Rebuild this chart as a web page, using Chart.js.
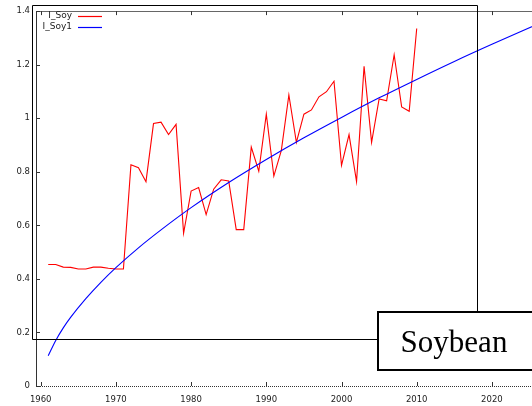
<!DOCTYPE html>
<html><head><meta charset="utf-8">
<script src="https://cdn.jsdelivr.net/npm/chart.js@4"></script>
<style>html,body{margin:0;padding:0;background:#fff;overflow:hidden}canvas{display:block}</style>
</head><body>
<canvas id="c" width="532" height="406"></canvas>
<script>
const years = [1961,1962,1963,1964,1965,1966,1967,1968,1969,1970,
  1971,1972,1973,1974,1975,1976,1977,1978,1979,1980,
  1981,1982,1983,1984,1985,1986,1987,1988,1989,1990,
  1991,1992,1993,1994,1995,1996,1997,1998,1999,2000,
  2001,2002,2003,2004,2005,2006,2007,2008,2009,2010];
const soy = [0.454,0.454,0.444,0.443,0.437,0.437,0.444,0.444,0.440,0.437,
  0.437,0.826,0.815,0.763,0.980,0.985,0.939,0.977,0.570,0.728,
  0.741,0.640,0.735,0.770,0.766,0.584,0.584,0.892,0.802,1.015,
  0.784,0.880,1.087,0.910,1.015,1.031,1.080,1.099,1.138,0.824,
  0.939,0.763,1.194,0.910,1.072,1.065,1.237,1.042,1.026,1.335];
const fitYears = [1961,1962,1963,1964,1966,1968,1970,1973,1976,1980,1985,1990,1995,2000,2005,2010,2015,2020,2026];
const fitValues = [0.113,0.170,0.217,0.257,0.326,0.387,0.442,0.516,0.583,0.666,0.760,0.846,0.927,1.003,1.076,1.145,1.212,1.276,1.350];
const xTicks = [1960,1970,1980,1990,2000,2010,2020];
const yTicks = [0,0.2,0.4,0.6,0.8,1,1.2,1.4];
const yTickLabels = ['0','0.2','0.4','0.6','0.8','1','1.2','1.4'];
const seriesNames = ['I_Soy','I_Soy1'];
const seriesColors = ['#ff0000','#0000ff'];
const panelTitle = 'Soybean';

const X_MIN = 1959.375, X_MAX = 2025.33;

const deco = {
  id: 'deco',
  afterDraw(chart) {
    const {ctx, chartArea: a, scales: {x, y}} = chart;
    ctx.save();
    // bottom axis (dotted look)
    ctx.strokeStyle = '#333'; ctx.lineWidth = 1;
    ctx.setLineDash([1, 1]);
    ctx.beginPath(); ctx.moveTo(a.left, Math.round(a.bottom) + 0.5); ctx.lineTo(a.right, Math.round(a.bottom) + 0.5); ctx.stroke();
    ctx.setLineDash([]);
    // top border
    ctx.strokeStyle = '#666';
    ctx.beginPath(); ctx.moveTo(a.left, Math.round(a.top) + 0.5); ctx.lineTo(a.right, Math.round(a.top) + 0.5); ctx.stroke();
    // inward ticks
    ctx.strokeStyle = '#333';
    ctx.beginPath();
    xTicks.forEach(v => {
      const px = Math.round(x.getPixelForValue(v)) + 0.5;
      ctx.moveTo(px, a.bottom); ctx.lineTo(px, a.bottom - 4);
      ctx.moveTo(px, a.top); ctx.lineTo(px, a.top + 4);
    });
    yTicks.forEach(v => {
      const py = Math.round(y.getPixelForValue(v)) + 0.5;
      ctx.moveTo(a.left, py); ctx.lineTo(a.left + 4, py);
    });
    ctx.stroke();
    // inset frame
    ctx.strokeStyle = '#000';
    ctx.beginPath();
    ctx.moveTo(377, 339.5); ctx.lineTo(32.5, 339.5); ctx.lineTo(32.5, 5.5);
    ctx.lineTo(477.5, 5.5); ctx.lineTo(477.5, 311);
    ctx.stroke();
    // legend
    ctx.font = '9px "DejaVu Sans"';
    ctx.textAlign = 'right'; ctx.textBaseline = 'middle';
    seriesNames.forEach((n, i) => {
      const yy = 16 + i * 11;
      ctx.fillStyle = '#222';
      ctx.fillText(n, 72, yy);
      ctx.strokeStyle = seriesColors[i];
      ctx.lineWidth = 1.2;
      ctx.beginPath(); ctx.moveTo(78, yy + 0.5); ctx.lineTo(102, yy + 0.5); ctx.stroke();
    });
    // title box (extends past right edge)
    ctx.fillStyle = '#fff';
    ctx.fillRect(378, 312, 160, 58);
    ctx.strokeStyle = '#000'; ctx.lineWidth = 2;
    ctx.strokeRect(378, 312, 170, 58);
    ctx.fillStyle = '#000';
    ctx.font = '31px "Liberation Serif"';
    ctx.textAlign = 'center'; ctx.textBaseline = 'alphabetic';
    ctx.fillText(panelTitle, 454, 352);
    ctx.restore();
  }
};

new Chart(document.getElementById('c'), {
  type: 'line',
  data: {
    datasets: [
      { label: seriesNames[0], data: years.map((yr, i) => ({x: yr, y: soy[i]})),
        borderColor: seriesColors[0], borderWidth: 1.1, pointRadius: 0, tension: 0, order: 1 },
      { label: seriesNames[1], data: fitYears.map((yr, i) => ({x: yr, y: fitValues[i]})),
        borderColor: seriesColors[1], borderWidth: 1.1, pointRadius: 0, cubicInterpolationMode: 'monotone', order: 0 }
    ]
  },
  options: {
    responsive: false, animation: false, devicePixelRatio: 1,
    layout: { padding: { left: 0, right: 0, top: 6, bottom: 0 } },
    plugins: { legend: { display: false }, tooltip: { enabled: false } },
    scales: {
      x: {
        type: 'linear', min: X_MIN, max: X_MAX,
        grid: { display: false, drawTicks: false },
        border: { display: false },
        afterBuildTicks: s => { s.ticks = xTicks.map(v => ({value: v})); },
        afterFit: s => { s.height = 20; },
        ticks: { autoSkip: false, maxRotation: 0, padding: 9, color: '#222',
          font: { family: 'DejaVu Sans', size: 8.5 },
          callback: v => String(v) }
      },
      y: {
        min: 0, max: 1.4,
        grid: { display: false, drawTicks: false },
        border: { display: true, color: '#333', width: 1 },
        afterBuildTicks: s => { s.ticks = yTicks.map(v => ({value: v})); },
        afterFit: s => { s.width = 36; },
        ticks: { autoSkip: false, padding: 6, color: '#222',
          font: { family: 'DejaVu Sans', size: 8.5 },
          callback: v => { const i = yTicks.findIndex(t => Math.abs(t - v) < 1e-6); return i >= 0 ? yTickLabels[i] : ''; } }
      }
    }
  },
  plugins: [deco]
});
</script>
</body></html>
